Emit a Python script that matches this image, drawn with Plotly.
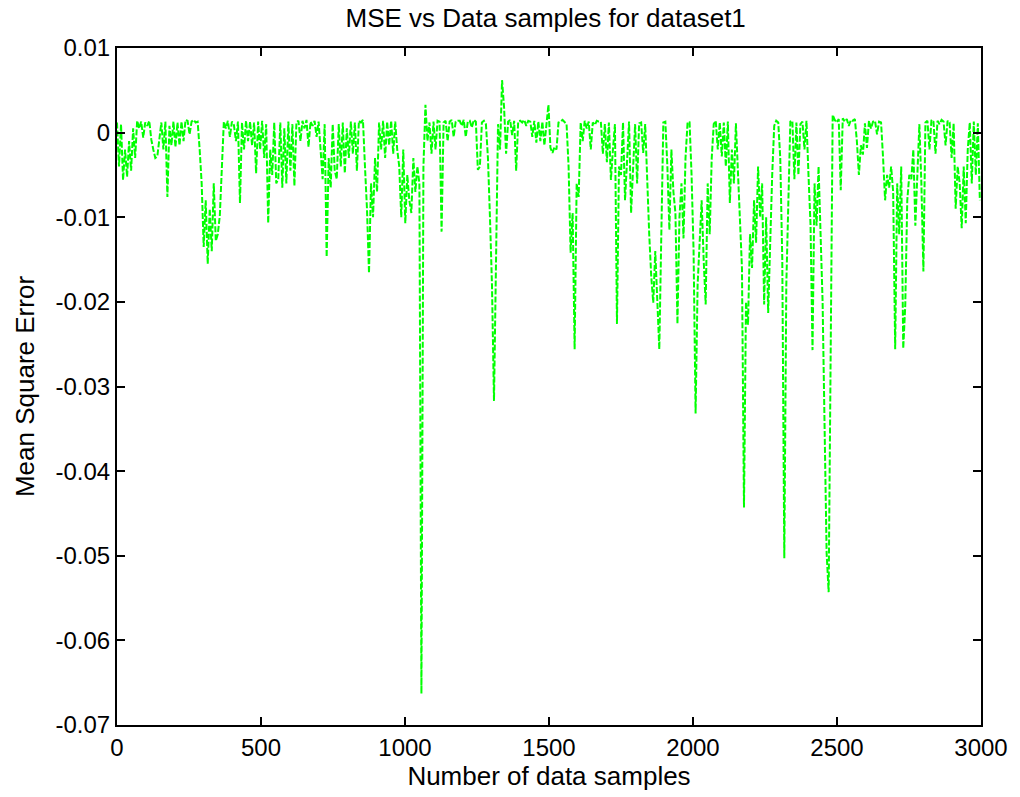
import plotly.graph_objects as go

# Values (one value every 7 samples)
sample_step = 7
mse = [
    # 0-63
    0.0012, -0.004, 0.001, -0.0056, -0.002, -0.0052, -0.001, -0.0045, 0.0005, -0.003,
    # 70-133
    0.0014, 0.0005, 0.0013, -0.0006, 0.0012, 0.0008, 0.0014, -0.0008, -0.002, -0.003,
    # 140-203
    -0.0028, -0.001, 0.0012, -0.002, 0.0013, -0.0076, 0.0008, -0.0015, 0.0013, -0.0017,
    # 210-273
    0.0012, -0.0015, 0.0013, -0.001, 0.0015, 0.0014, -0.0002, 0.0013, 0.0015, 0.0012,
    # 280-343
    0.0013, -0.002, -0.006, -0.0135, -0.008, -0.0155, -0.009, -0.014, -0.006, -0.0128,
    # 350-413
    -0.012, -0.0098, -0.004, 0.0013, 0.0005, 0.0014, -0.0005, 0.0013, 0.0009, -0.001,
    # 420-483
    0.0013, -0.0083, 0.0012, -0.002, 0.0014, -0.001, 0.0013, -0.0015, 0.0012, -0.0048,
    # 490-553
    0.0013, -0.002, 0.0014, -0.003, 0.001, -0.0107, -0.002, -0.005, 0.0012, -0.006,
    # 560-623
    -0.0055, 0.0012, -0.0065, 0.0005, -0.006, 0.0013, -0.0045, 0.0010, -0.0063, 0.0012,
    # 630-693
    0.0014, -0.001, 0.0014, 0.0005, 0.0015, -0.0017, 0.0013, 0.0008, 0.0014, -0.0005,
    # 700-763
    0.0013, -0.002, -0.0055, 0.001, -0.0147, -0.003, -0.0065, 0.0010, -0.0045, -0.0055,
    # 770-833
    0.001, -0.004, 0.0012, -0.0048, 0.0005, -0.003, 0.0013, -0.0025, 0.0012, -0.0045,
    # 840-903
    0.0014, 0.0012, 0.0015, -0.004, -0.009, -0.0166, -0.006, -0.010, -0.003, -0.007,
    # 910-973
    0.0012, -0.002, 0.0014, -0.003, 0.0013, -0.0015, 0.0014, -0.0025, 0.0013, -0.002,
    # 980-1043
    -0.004, -0.010, -0.002, -0.0107, -0.005, -0.008, -0.0095, -0.003, -0.007, -0.004,
    # 1050-1113
    -0.006, -0.0663, -0.004, 0.0033, -0.001, 0.0012, -0.0025, 0.0013, -0.002, 0.0014,
    # 1120-1183
    0.0013, -0.0117, 0.0012, 0.0014, -0.001, 0.0013, 0.0015, -0.0005, 0.0013, 0.0014,
    # 1190-1253
    0.0014, 0.0008, 0.0015, -0.0005, 0.0013, 0.0014, 0.0006, 0.0015, 0.0013, -0.0044,
    # 1260-1323
    -0.004, 0.0012, 0.0014, 0.0010, -0.003, -0.010, -0.018, -0.0317, -0.012, 0.001,
    # 1330-1393
    -0.002, 0.0062, 0.003, -0.0025, 0.0013, 0.0015, -0.0003, 0.0014, -0.0045, 0.0013,
    # 1400-1463
    0.0014, 0.0012, 0.0015, 0.0008, 0.0014, 0.0013, -0.0005, 0.0014, -0.0012, 0.0013,
    # 1470-1533
    -0.001, 0.0013, -0.0015, 0.0010, 0.0033, -0.0018, -0.0024, -0.0017, -0.002, 0.0012,
    # 1540-1603
    0.0013, 0.0015, 0.0012, 0.0010, -0.004, -0.0142, -0.0095, -0.0256, -0.006, -0.0076,
    # 1610-1673
    0.0012, -0.001, 0.0014, 0.0005, 0.0013, -0.0020, 0.0012, 0.0009, 0.0014, 0.0013,
    # 1680-1743
    0.0013, -0.0025, 0.0010, -0.0035, 0.0012, -0.0056, -0.002, 0.0010, -0.0226, -0.004,
    # 1750-1813
    -0.005, 0.0012, -0.008, -0.003, 0.0013, -0.0095, -0.004, 0.0010, -0.006, 0.0011,
    # 1820-1883
    0.0012, -0.0024, 0.0010, -0.006, -0.012, -0.017, -0.0201, -0.014, -0.019, -0.0256,
    # 1890-1953
    -0.012, 0.0012, 0.0013, -0.004, -0.0115, -0.002, -0.007, -0.0095, -0.0226, -0.010,
    # 1960-2023
    -0.006, -0.0125, -0.003, 0.0011, 0.0013, -0.005, -0.014, -0.0332, -0.018, -0.012,
    # 2030-2093
    -0.008, -0.015, -0.0203, -0.006, -0.012, -0.003, 0.0010, 0.0014, -0.002, 0.0012,
    # 2100-2163
    -0.0028, 0.0012, -0.004, 0.0013, -0.0083, -0.002, -0.006, 0.0011, -0.0044, -0.009,
    # 2170-2233
    -0.016, -0.0443, -0.02, -0.0227, -0.012, -0.016, -0.008, -0.013, -0.004, -0.01,
    # 2240-2303
    -0.006, -0.0203, -0.01, -0.0213, -0.012, -0.005, 0.0008, 0.0014, 0.0012, -0.003,
    # 2310-2373
    -0.015, -0.0503, -0.018, -0.008, 0.0013, 0.0014, -0.0055, 0.0012, -0.005, 0.0010,
    # 2380-2443
    0.0013, -0.002, 0.0014, -0.005, -0.0108, -0.0257, -0.006, -0.011, -0.004, -0.012,
    # 2450-2513
    -0.02, -0.035, -0.0497, -0.0543, -0.03, 0.0021, 0.0015, 0.0012, 0.0016, -0.0068,
    # 2520-2583
    0.0017, 0.0013, 0.0016, 0.0008, 0.0015, 0.0014, 0.0016, -0.001, -0.005, -0.0015,
    # 2590-2653
    -0.0026, 0.0011, -0.0018, 0.0014, 0.0005, 0.0013, 0.0014, -0.0002, 0.0013, 0.0012,
    # 2660-2723
    -0.003, -0.008, -0.005, -0.0065, -0.004, -0.007, -0.0256, -0.006, -0.012, -0.004,
    # 2730-2793
    -0.0255, -0.0204, -0.008, -0.005, -0.0055, -0.002, -0.011, -0.004, 0.0010, -0.006,
    # 2800-2863
    -0.0164, 0.0012, 0.0014, -0.002, 0.0015, 0.0013, -0.0025, 0.0014, 0.0010, 0.0015,
    # 2870-2933
    0.0013, -0.0015, 0.0014, 0.0012, -0.003, 0.0011, -0.009, -0.004, -0.006, -0.0113,
    # 2940-2996
    -0.004, -0.0107, -0.002, 0.0012, -0.006, 0.0013, -0.005, 0.0011, -0.008,
]
samples = [i * sample_step for i in range(len(mse))]

x_ticks = [0, 500, 1000, 1500, 2000, 2500, 3000]
y_ticks = [0.01, 0, -0.01, -0.02, -0.03, -0.04, -0.05, -0.06, -0.07]
y_tick_text = ["0.01", "0", "-0.01", "-0.02", "-0.03", "-0.04", "-0.05", "-0.06", "-0.07"]

font_family = "Liberation Sans, Arial, sans-serif"

fig = go.Figure()
fig.add_trace(go.Scatter(
    x=samples, y=mse, mode="lines",
    line=dict(color="#00FF00", width=2, dash="6px,2px"),
    showlegend=False,
))

axis_common = dict(
    showgrid=False, zeroline=False, showline=True, linecolor="black", linewidth=2,
    mirror="ticks", ticks="inside", ticklen=8, tickwidth=1.5, tickcolor="black",
    tickfont=dict(family=font_family, size=24, color="black"),
)

fig.update_layout(
    width=1020, height=797,
    margin=dict(l=117, r=36, t=48, b=72),
    paper_bgcolor="white", plot_bgcolor="white",
    title=dict(text="MSE vs Data samples for dataset1", x=0.535, xanchor="center",
               y=0.978, yanchor="middle",
               font=dict(family=font_family, size=26, color="black")),
    xaxis=dict(range=[0, 3000], tickvals=x_ticks,
               title=dict(text="Number of data samples", standoff=4,
                          font=dict(family=font_family, size=26, color="black")),
               **axis_common),
    yaxis=dict(range=[-0.07, 0.01], tickvals=y_ticks, ticktext=y_tick_text,
               title=dict(text="Mean Square Error", standoff=13,
                          font=dict(family=font_family, size=26, color="black")),
               **axis_common),
)

fig.write_html("out.html")
